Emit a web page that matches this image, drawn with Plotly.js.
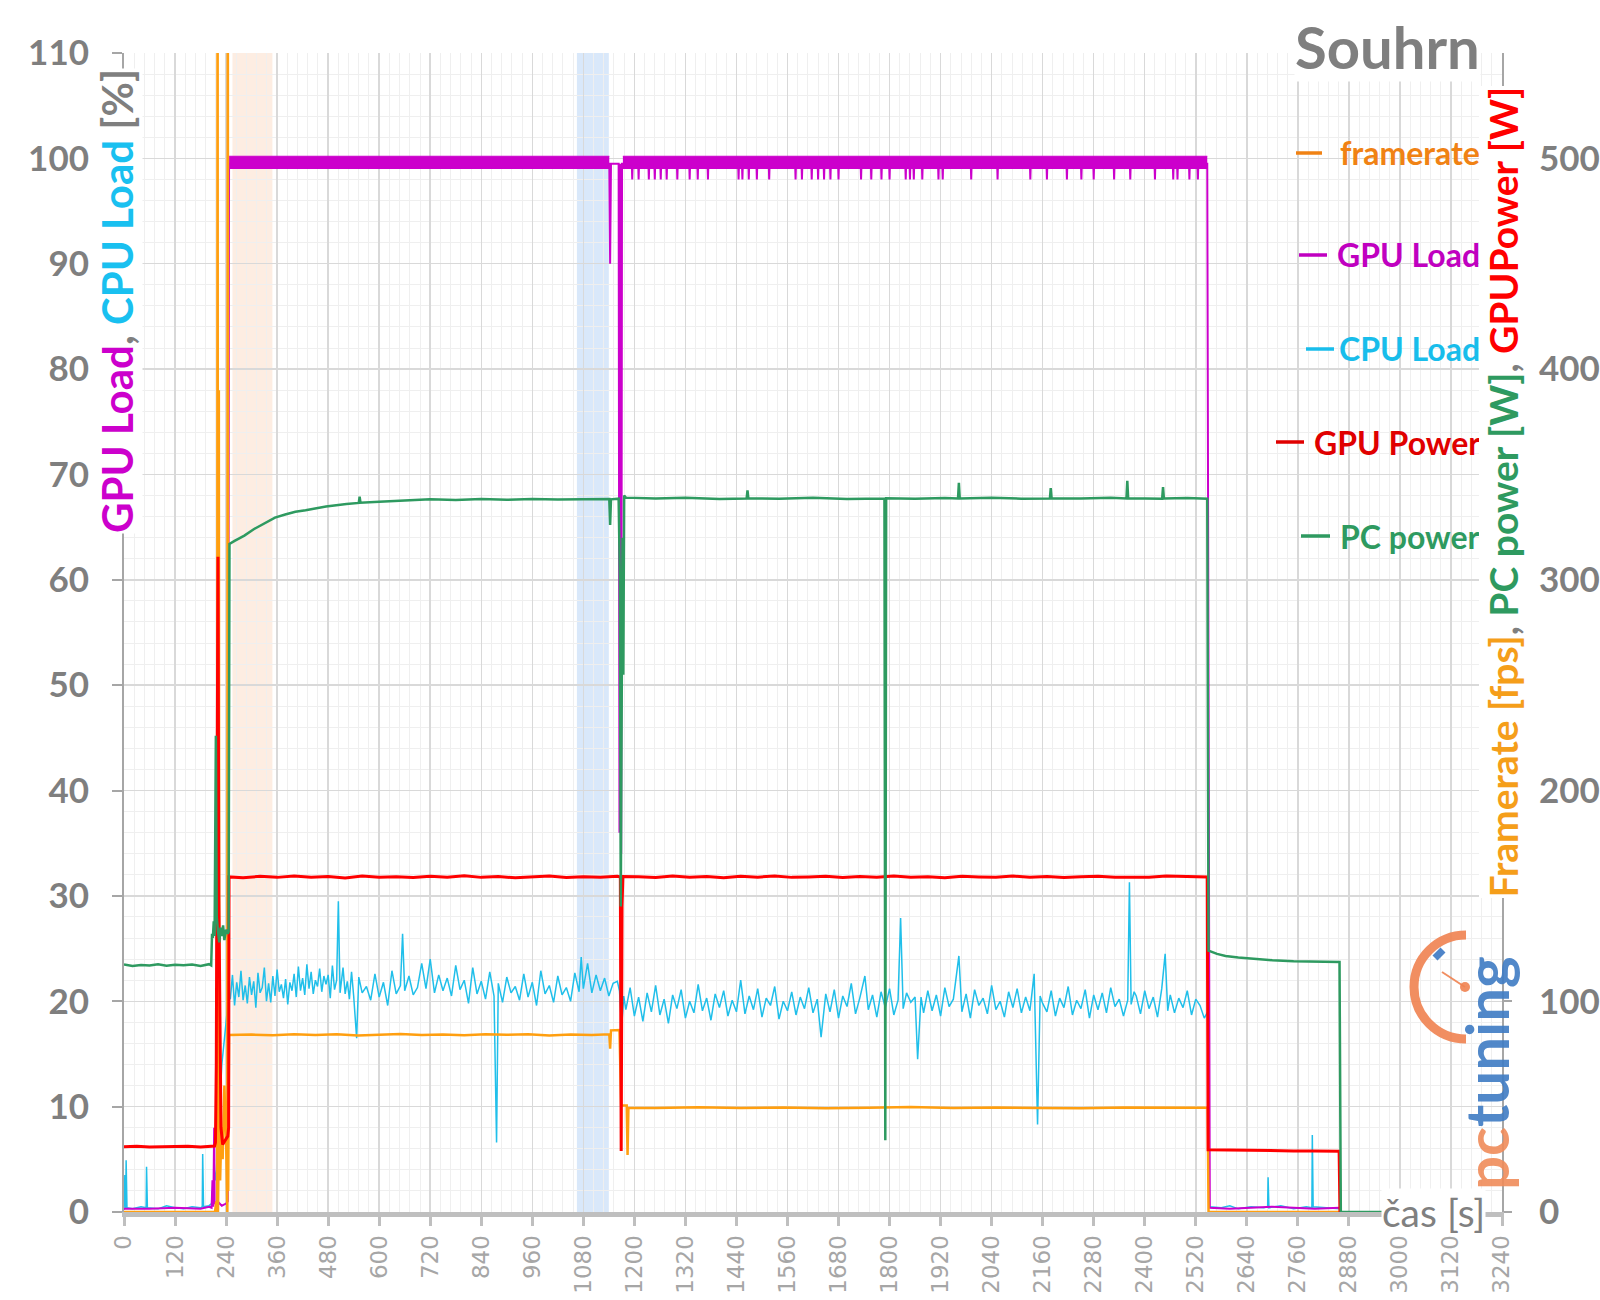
<!DOCTYPE html>
<html><head><meta charset="utf-8">
<script src="https://cdn.plot.ly/plotly-3.0.1.min.js"></script>
<style>html,body{margin:0;padding:0;background:#fff}#chart{width:1600px;height:1300px}</style>
</head><body><div id="chart"></div>
<script>
// ---------------- DATA ----------------
// x ticks (seconds)
const xTickVals = [0,120,240,360,480,600,720,840,960,1080,1200,1320,1440,1560,1680,1800,1920,2040,2160,2280,2400,2520,2640,2760,2880,3000,3120,3240];
// highlighted time windows [s]
const shadeStart = [255, 1065];
const shadeEnd   = [349, 1140];
const shadeColor = ['rgba(250,215,190,0.45)', 'rgba(180,210,245,0.5)'];

// framerate [fps] (right axis)
const framerateTime = [0,100,200,214,217,219,220,221,222,223,224,226,229,232,236,240,243,244,245,247,
  300,350,400,450,500,550,600,650,700,750,800,850,900,950,1000,1050,1100,1141,1143,1145,1165,1169,1182,1184,1186,
  1250,1350,1450,1550,1650,1750,1850,1950,2050,2150,2250,2350,2450,2548,2550,2700,2858];
const framerate = [0,0,0,0,5,0,700,0,20,390,30,15,40,25,60,35,0,700,10,84,
  84.2,83.9,84.4,84.0,84.3,83.8,84.1,84.5,84.0,84.2,83.9,84.3,84.1,84.4,83.8,84.2,84.0,84.3,77.5,86.2,86.3,50.5,50.5,27,49.5,
  49.4,49.7,49.3,49.6,49.2,49.5,49.8,49.3,49.6,49.4,49.2,49.6,49.4,49.5,0,0,0];

// GPU load [%] (left axis)
const gpuLoadTime = [0,60,120,180,200,206,208,210,212,213,215,220,230,240,244,246,247,
  1141,1143,1145,1163,1165,1167,1169,1171,1173,
  1194,1195,1196,1209,1210,1211,1233,1234,1235,1247,1248,1249,1261,1262,1263,1275,1276,1277,
  1300,1301,1302,1329,1330,1331,1348,1349,1350,1372,1373,1374,1444,1445,1446,1453,1454,1455,
  1468,1469,1470,1487,1488,1489,1516,1517,1518,1578,1579,1580,1593,1594,1595,1616,1617,1618,
  1631,1632,1633,1645,1646,1647,1660,1661,1662,1679,1680,1681,1732,1733,1734,1756,1757,1758,
  1780,1781,1782,1799,1800,1801,1837,1838,1839,1847,1848,1849,1856,1857,1858,1876,1877,1878,
  1914,1915,1916,1924,1925,1926,1991,1992,1993,2053,2054,2055,2130,2131,2132,2169,2170,2171,
  2216,2217,2218,2250,2251,2252,2279,2280,2281,2327,2328,2329,2365,2366,2367,2423,2424,2425,
  2466,2467,2468,2476,2477,2478,2504,2505,2506,2524,2525,2526,
  2547,2550,2553,2600,2700,2800,2858];
const gpuLoad = [0.3,0.3,0.4,0.3,0.5,0.4,3,0.5,8,1,0.8,1,0.6,0.8,1,55,99.5,
  99.5,90,99.5,99.5,36,99.5,34,99.5,99.5,
  99.5,98,99.5,99.5,98,99.5,99.5,98,99.5,99.5,98,99.5,99.5,98,99.5,99.5,98,99.5,
  99.5,98,99.5,99.5,98,99.5,99.5,98,99.5,99.5,98,99.5,99.5,98,99.5,99.5,98,99.5,
  99.5,98,99.5,99.5,98,99.5,99.5,98,99.5,99.5,98,99.5,99.5,98,99.5,99.5,98,99.5,
  99.5,98,99.5,99.5,98,99.5,99.5,98,99.5,99.5,98,99.5,99.5,98,99.5,99.5,98,99.5,
  99.5,98,99.5,99.5,98,99.5,99.5,98,99.5,99.5,98,99.5,99.5,98,99.5,99.5,98,99.5,
  99.5,98,99.5,99.5,98,99.5,99.5,98,99.5,99.5,98,99.5,99.5,98,99.5,99.5,98,99.5,
  99.5,98,99.5,99.5,98,99.5,99.5,98,99.5,99.5,98,99.5,99.5,98,99.5,99.5,98,99.5,
  99.5,98,99.5,99.5,98,99.5,99.5,98,99.5,99.5,98,99.5,
  99.5,49,0.4,0.3,0.5,0.3,0.4];
// GPU load oscillation band (99-100 %) during load
const gpuBandTime = [[247,1141],[1173,2547]];
const gpuBandLow = 99;
const gpuBandHigh = 100.2;

// CPU load [%] (left axis)
const cpuLoadTime = [0,2,4,5,7,20,40,52,53,55,80,100,120,140,160,180,184,185,187,200,206,207,209,212,216,222,230,240,246,
  250,255,260,265,270,275,280,285,290,295,300,305,310,315,320,325,330,335,340,345,350,355,360,365,370,375,380,385,390,395,
  400,405,410,415,420,425,430,435,440,445,450,455,460,465,470,475,480,485,490,495,500,504,508,515,520,525,530,535,540,547,
  552,560,570,580,590,600,610,620,630,640,650,655,660,670,680,690,700,710,720,730,740,
  750,760,770,780,790,800,810,820,830,840,850,860,870,876,880,890,900,910,920,930,940,950,960,970,980,990,
  1000,1010,1020,1030,1040,1050,1060,1070,1075,1080,1090,1100,1110,1120,1130,1140,1150,1160,1165,1170,1175,
  1180,1190,1200,1210,1220,1230,1240,1250,1260,1270,1280,1290,1300,1310,1320,1330,1340,1350,1360,1370,
  1380,1390,1400,1410,1420,1430,1440,1450,1460,1470,1480,1490,1500,1510,1520,1530,1540,1550,1560,1570,
  1580,1590,1600,1610,1620,1630,1639,1650,1660,1670,1680,1690,1700,1710,1720,1730,1742,1750,1760,1770,
  1780,1790,1800,1810,1820,1826,1832,1840,1850,1860,1866,1874,1880,1890,1900,1910,1920,1930,1940,1950,1963,1970,
  1980,1990,2000,2010,2020,2030,2040,2050,2060,2070,2080,2090,2100,2110,2120,2130,2140,2148,2154,2160,2170,
  2180,2190,2200,2210,2220,2230,2240,2250,2260,2270,2280,2290,2300,2310,2320,2330,2340,2350,2360,2364,2368,2375,
  2380,2390,2400,2410,2420,2430,2440,2448,2454,2460,2470,2480,2490,2500,2510,2520,2530,2540,
  2548,2552,2580,2600,2620,2650,2680,2689,2690,2692,2720,2750,2780,2793,2794,2796,2830,2858];
const cpuLoad = [0.2,3.5,0.3,4.9,0.4,0.3,0.5,0.4,4.3,0.4,0.3,0.6,0.4,0.3,0.5,0.4,0.5,5.5,0.5,0.6,0.8,2.0,0.7,4.0,3.0,8.0,14.0,18.0,20.5,
  20.2,22.5,19.6,21.8,20.4,22.9,20.1,21.5,19.8,22.3,20.6,21.9,19.4,22.7,20.8,21.3,23.2,20.0,21.7,19.9,22.4,20.5,23.0,20.9,21.6,20.3,22.1,19.7,21.8,21.0,
  22.6,20.4,23.3,21.0,22.2,20.6,23.5,21.2,22.8,20.7,22.0,21.4,23.1,20.9,22.4,21.6,22.5,20.3,23.4,21.1,22.0,29.5,20.8,23.2,20.7,21.9,20.2,22.8,20.5,16.5,
  22.3,20.8,21.4,20.1,22.6,20.4,21.8,19.6,22.9,20.7,21.5,26.4,21.0,22.4,20.6,21.3,23.6,21.2,24.0,20.8,22.5,
  21.0,22.2,20.5,23.4,21.1,22.0,19.8,23.2,20.7,21.9,20.2,22.8,20.5,6.6,21.7,19.9,22.3,20.8,21.4,20.1,22.6,20.4,21.8,19.6,22.9,20.7,
  21.5,19.9,22.4,20.6,21.3,20.0,22.7,20.9,24.2,21.2,23.6,20.8,22.5,21.0,22.2,20.5,21.7,21.9,21.0,17.5,20.5,
  19.2,21.3,18.6,20.4,18.1,20.8,19.0,21.5,18.7,20.2,17.9,20.6,19.3,21.1,18.4,20.0,18.9,21.6,19.1,20.3,
  18.2,20.7,19.4,21.0,18.6,20.1,19.0,22.0,18.8,20.5,19.2,21.2,18.5,20.3,19.6,21.4,18.3,20.0,19.1,20.9,
  18.7,20.4,19.3,21.3,18.9,20.2,16.6,20.7,19.0,21.1,18.4,20.5,19.5,21.7,18.8,20.3,22.4,19.2,20.6,18.5,
  20.9,19.4,21.2,18.7,20.1,27.9,19.3,20.8,19.9,20.4,14.5,20.4,18.9,21.0,19.1,20.6,18.6,21.3,19.5,20.2,24.3,19.0,
  20.7,18.4,21.1,19.6,20.3,18.8,21.5,19.2,20.0,18.5,20.9,19.4,21.2,18.9,20.4,19.1,22.6,8.3,20.5,19.8,19.0,
  21.0,18.6,20.3,19.4,21.4,18.7,20.1,19.3,21.1,18.4,20.6,19.2,20.8,18.9,21.3,19.5,20.2,18.6,20.1,31.3,19.7,20.9,
  20.5,18.8,21.0,19.3,20.4,18.5,21.2,24.5,19.1,20.6,18.9,20.3,19.4,21.0,18.7,20.2,19.6,18.4,
  19.0,0.5,0.4,0.6,0.3,0.5,0.4,0.5,3.3,0.4,0.6,0.3,0.5,0.4,7.3,0.5,0.4,0.3];

// GPU power [W] (right axis)
const gpuPowerTime = [0,30,60,90,120,150,180,210,213,215,217,219,221,223,225,228,232,238,244,246,247,
  280,320,360,400,440,480,520,560,600,640,680,720,760,800,840,880,920,960,1000,1040,1080,1120,1160,
  1167,1169,1171,1173,
  1210,1250,1290,1330,1370,1410,1450,1490,1530,1570,1610,1650,1690,1730,1770,1810,1850,1890,1930,1970,
  2010,2050,2090,2130,2170,2210,2250,2290,2330,2370,2410,2450,2490,2530,
  2547,2549,2600,2650,2700,2750,2800,2857,2859];
const gpuPower = [31,31.2,30.9,31.1,31,31.2,30.9,31.1,31.3,33,70,200,311,150,90,40,32,34,36,40,159,
  158.6,159.3,158.8,159.5,158.9,159.2,158.5,159.4,158.8,159.1,158.7,159.3,158.9,159.6,158.8,159.2,158.6,159.0,159.4,158.7,159.1,158.9,159.3,
  159,29,145,159.2,
  159.1,158.7,159.4,158.9,159.2,158.6,159.3,158.9,159.5,158.8,159.0,159.3,158.7,159.2,158.9,159.4,158.8,159.1,158.6,159.3,
  159.0,158.8,159.4,158.9,159.2,158.7,159.1,159.3,158.9,159.0,158.8,159.4,159.1,158.9,
  159,29.5,29.3,29.2,29.1,29.0,29.0,28.8,0];

// PC power [W] (right axis)
const pcPowerTime = [0,20,40,60,80,100,120,140,160,180,200,205,207,209,211,213,216,218,221,224,227,230,233,236,240,244,246,
  248,260,283,305,331,355,379,403,427,475,523,552,554,556,600,667,720,780,840,900,960,1020,1080,1120,1141,1143,1145,1163,
  1166,1168,1170,1172,1174,1176,1180,1250,1320,1400,1464,1466,1468,1540,1620,1700,1788,1790,1792,1860,1930,1961,1963,1965,
  2040,2110,2177,2179,2181,2250,2320,2357,2359,2361,2441,2443,2445,2500,2547,2550,2570,2590,2620,2660,2700,2750,2800,2858,2861,2975];
const pcPower = [117.5,116.8,117.2,117.0,117.6,116.9,117.3,117.1,117.4,116.8,117.6,117.0,132,130,138,131,226,140,133,128,135,131,136,129,134,132,133,
  317,318.5,321,324,327,329.5,331,332.3,333,334.8,336,336.5,339.5,336.6,337,337.8,338.2,337.9,338.3,338.0,338.4,338.1,338.3,338.2,338.3,326,338.2,338.5,
  300,145,250,320,255,340,339,338.6,338.9,338.4,338.6,342.5,338.7,338.5,338.9,338.4,338.6,34,338.7,338.5,338.8,338.6,346,338.6,
  338.9,338.5,338.6,343.5,338.7,338.6,338.9,338.6,347,338.7,338.5,344,338.6,338.8,338.5,124,122.5,121.5,120.8,120,119.5,119,118.8,118.6,0,0];

// ---------------- CHART ----------------
const L = 124, R = 1502, T = 53, B = 1212;
const px = v => (v - L) / (R - L);
const py = v => (B - v) / (B - T);

const COL = {fr:'#FF9F10', gpu:'#CC00CC', cpu:'#20BFEA', gp:'#FF0000', pc:'#2E9A60', grey:'#7F7F7F'};

const traces = [];
gpuBandTime.forEach(seg => {
  traces.push({x: seg, y: [gpuBandLow, gpuBandLow], yaxis:'y', mode:'lines', line:{width:0, color:COL.gpu}, showlegend:false, hoverinfo:'skip'});
  traces.push({x: seg, y: [gpuBandHigh, gpuBandHigh], yaxis:'y', mode:'lines', line:{width:1, color:COL.gpu}, fill:'tonexty', fillcolor:COL.gpu, showlegend:false, hoverinfo:'skip'});
});
traces.push({name:'framerate', x: framerateTime, y: framerate, yaxis:'y2', mode:'lines', line:{color:COL.fr, width:2.5}});
traces.push({name:'GPU Power', x: gpuPowerTime, y: gpuPower, yaxis:'y2', mode:'lines', line:{color:COL.gp, width:3}});
traces.push({name:'CPU Load', x: cpuLoadTime, y: cpuLoad, yaxis:'y', mode:'lines', line:{color:COL.cpu, width:1.5}});
traces.push({name:'GPU Load', x: gpuLoadTime, y: gpuLoad, yaxis:'y', mode:'lines', line:{color:COL.gpu, width:2}});
traces.push({name:'PC power', x: pcPowerTime, y: pcPower, yaxis:'y2', mode:'lines', line:{color:COL.pc, width:2.5}});

const shapes = shadeStart.map((s, i) => ({type:'rect', xref:'x', yref:'paper', x0:s, x1:shadeEnd[i], y0:0, y1:1, fillcolor:shadeColor[i], line:{width:0}, layer:'below'}));

// pctuning logo gauge
(function(){
  const cx = 1466, cy = 987, r = 52, k = 0.5523 * r;
  const P = (x, y) => px(x).toFixed(5) + ',' + py(y).toFixed(5);
  const path = 'M' + P(cx, cy - r) + ' C' + P(cx - k, cy - r) + ' ' + P(cx - r, cy - k) + ' ' + P(cx - r, cy) +
               ' C' + P(cx - r, cy + k) + ' ' + P(cx - k, cy + r) + ' ' + P(cx, cy + r);
  shapes.push({type:'path', xref:'paper', yref:'paper', path: path, line:{color:'rgba(240,130,80,0.9)', width:9}});
  shapes.push({type:'line', xref:'paper', yref:'paper', x0:px(1442), y0:py(972), x1:px(1465), y1:py(987), line:{color:'rgba(240,130,80,0.9)', width:2}});
  shapes.push({type:'circle', xref:'paper', yref:'paper', x0:px(1460), y0:py(982), x1:px(1470), y1:py(992), fillcolor:'rgba(240,130,80,0.9)', line:{width:0}});
  shapes.push({type:'line', xref:'paper', yref:'paper', x0:px(1435), y0:py(958), x1:px(1443), y1:py(950), line:{color:'rgba(60,120,195,0.9)', width:7}});
})();

const bold = {family:'Lato, "Open Sans", sans-serif', weight:'bold'};
const legendItems = [
  {t:'framerate', c:'#F08214', y:153, d0:1296, d1:1322},
  {t:'GPU Load', c:'#C000C0', y:255, d0:1299, d1:1327},
  {t:'CPU Load', c:'#18BDEB', y:349, d0:1306, d1:1334},
  {t:'GPU Power', c:'#E00000', y:442, d0:1276, d1:1304},
  {t:'PC power', c:'#2E9A60', y:536, d0:1301, d1:1330}
];
const annotations = legendItems.map(it => ({
  xref:'paper', yref:'paper', x:px(1482), y:py(it.y), xanchor:'right', yanchor:'middle', showarrow:false,
  text:it.t, font:Object.assign({size:32, color:it.c}, bold)
}));
legendItems.forEach(it => shapes.push({type:'line', xref:'paper', yref:'paper', x0:px(it.d0), x1:px(it.d1), y0:py(it.y), y1:py(it.y), line:{color:it.c, width:3.5}}));
annotations.push({xref:'paper', yref:'paper', x:px(1481), y:py(46), xanchor:'right', yanchor:'middle', showarrow:false,
  text:'Souhrn', bgcolor:'#ffffff', borderpad:0, font:Object.assign({size:58, color:'#7F7F7F'}, bold)});
annotations.push({xref:'paper', yref:'paper', x:px(117), y:py(68), xanchor:'center', yanchor:'top', showarrow:false, textangle:-90,
  bgcolor:'#ffffff', borderpad:0,
  text:'<span style="color:#CC00CC">GPU Load</span><span style="color:#7F7F7F">, </span><span style="color:#19C0F0">CPU Load</span><span style="color:#7F7F7F"> [%]</span>',
  font:Object.assign({size:42, color:'#7F7F7F'}, bold)});
annotations.push({xref:'paper', yref:'paper', x:px(1503), y:py(86), xanchor:'center', yanchor:'top', showarrow:false, textangle:-90,
  bgcolor:'#ffffff', borderpad:0,
  text:'<span style="color:#F59E1A">Framerate [fps]</span><span style="color:#7F7F7F">, </span><span style="color:#2E9A60">PC power [W]</span><span style="color:#7F7F7F">, </span><span style="color:#FF0000">GPUPower [W]</span>',
  font:Object.assign({size:39, color:'#7F7F7F'}, bold)});
annotations.push({xref:'paper', yref:'paper', x:px(1486), y:0, xanchor:'right', yanchor:'middle', showarrow:false,
  bgcolor:'#ffffff', borderpad:0, text:'čas [s]', font:{family:'Lato, sans-serif', size:39, color:'#808080'}});
annotations.push({xref:'paper', yref:'paper', x:px(1486), y:py(1192), xanchor:'center', yanchor:'bottom', showarrow:false, textangle:-90,
  text:'<span style="color:#F08C5A">pc</span><span style="color:#3F7CC4">tuning</span>',
  font:Object.assign({size:60}, bold), opacity:0.9});

const layout = {
  width:1600, height:1300,
  margin:{l:L, r:1600-R, t:T, b:1300-B, pad:0},
  paper_bgcolor:'#ffffff', plot_bgcolor:'#ffffff',
  showlegend:false, hovermode:false,
  xaxis:{range:[0,3240], tickvals:xTickVals, ticktext:xTickVals.map(String), tickangle:-90,
    tickfont:{family:'"DejaVu Sans", sans-serif', size:23, color:'#A6A6A6'},
    ticks:'outside', ticklen:9, tickwidth:3, tickcolor:'#BFBFBF', ticklabelstandoff:0,
    showline:true, linecolor:'#BFBFBF', linewidth:5,
    showgrid:true, gridcolor:'#D9D9D9', gridwidth:1.5, zeroline:false,
    minor:{dtick:24, tick0:0, showgrid:true, gridcolor:'#EFEFEF', gridwidth:1}},
  yaxis:{range:[0,110], dtick:10, tick0:0,
    tickfont:Object.assign({size:35, color:'#7F7F7F'}, bold),
    ticks:'outside', ticklen:10, tickwidth:2, tickcolor:'#A6A6A6', ticklabelstandoff:16,
    showline:true, linecolor:'#A6A6A6', linewidth:2,
    showgrid:true, gridcolor:'#D9D9D9', gridwidth:1.5, zeroline:false,
    minor:{dtick:2, tick0:0, showgrid:true, gridcolor:'#EFEFEF', gridwidth:1}},
  yaxis2:{range:[0,550], dtick:100, tick0:0, overlaying:'y', side:'right',
    tickfont:Object.assign({size:35, color:'#7F7F7F'}, bold),
    ticks:'outside', ticklen:8, tickwidth:2, tickcolor:'#A6A6A6', ticklabelstandoff:20,
    showline:true, linecolor:'#A6A6A6', linewidth:2, showgrid:false, zeroline:false},
  shapes:shapes,
  annotations:annotations
};

Plotly.newPlot('chart', traces, layout, {displayModeBar:false, staticPlot:true});
</script></body></html>
